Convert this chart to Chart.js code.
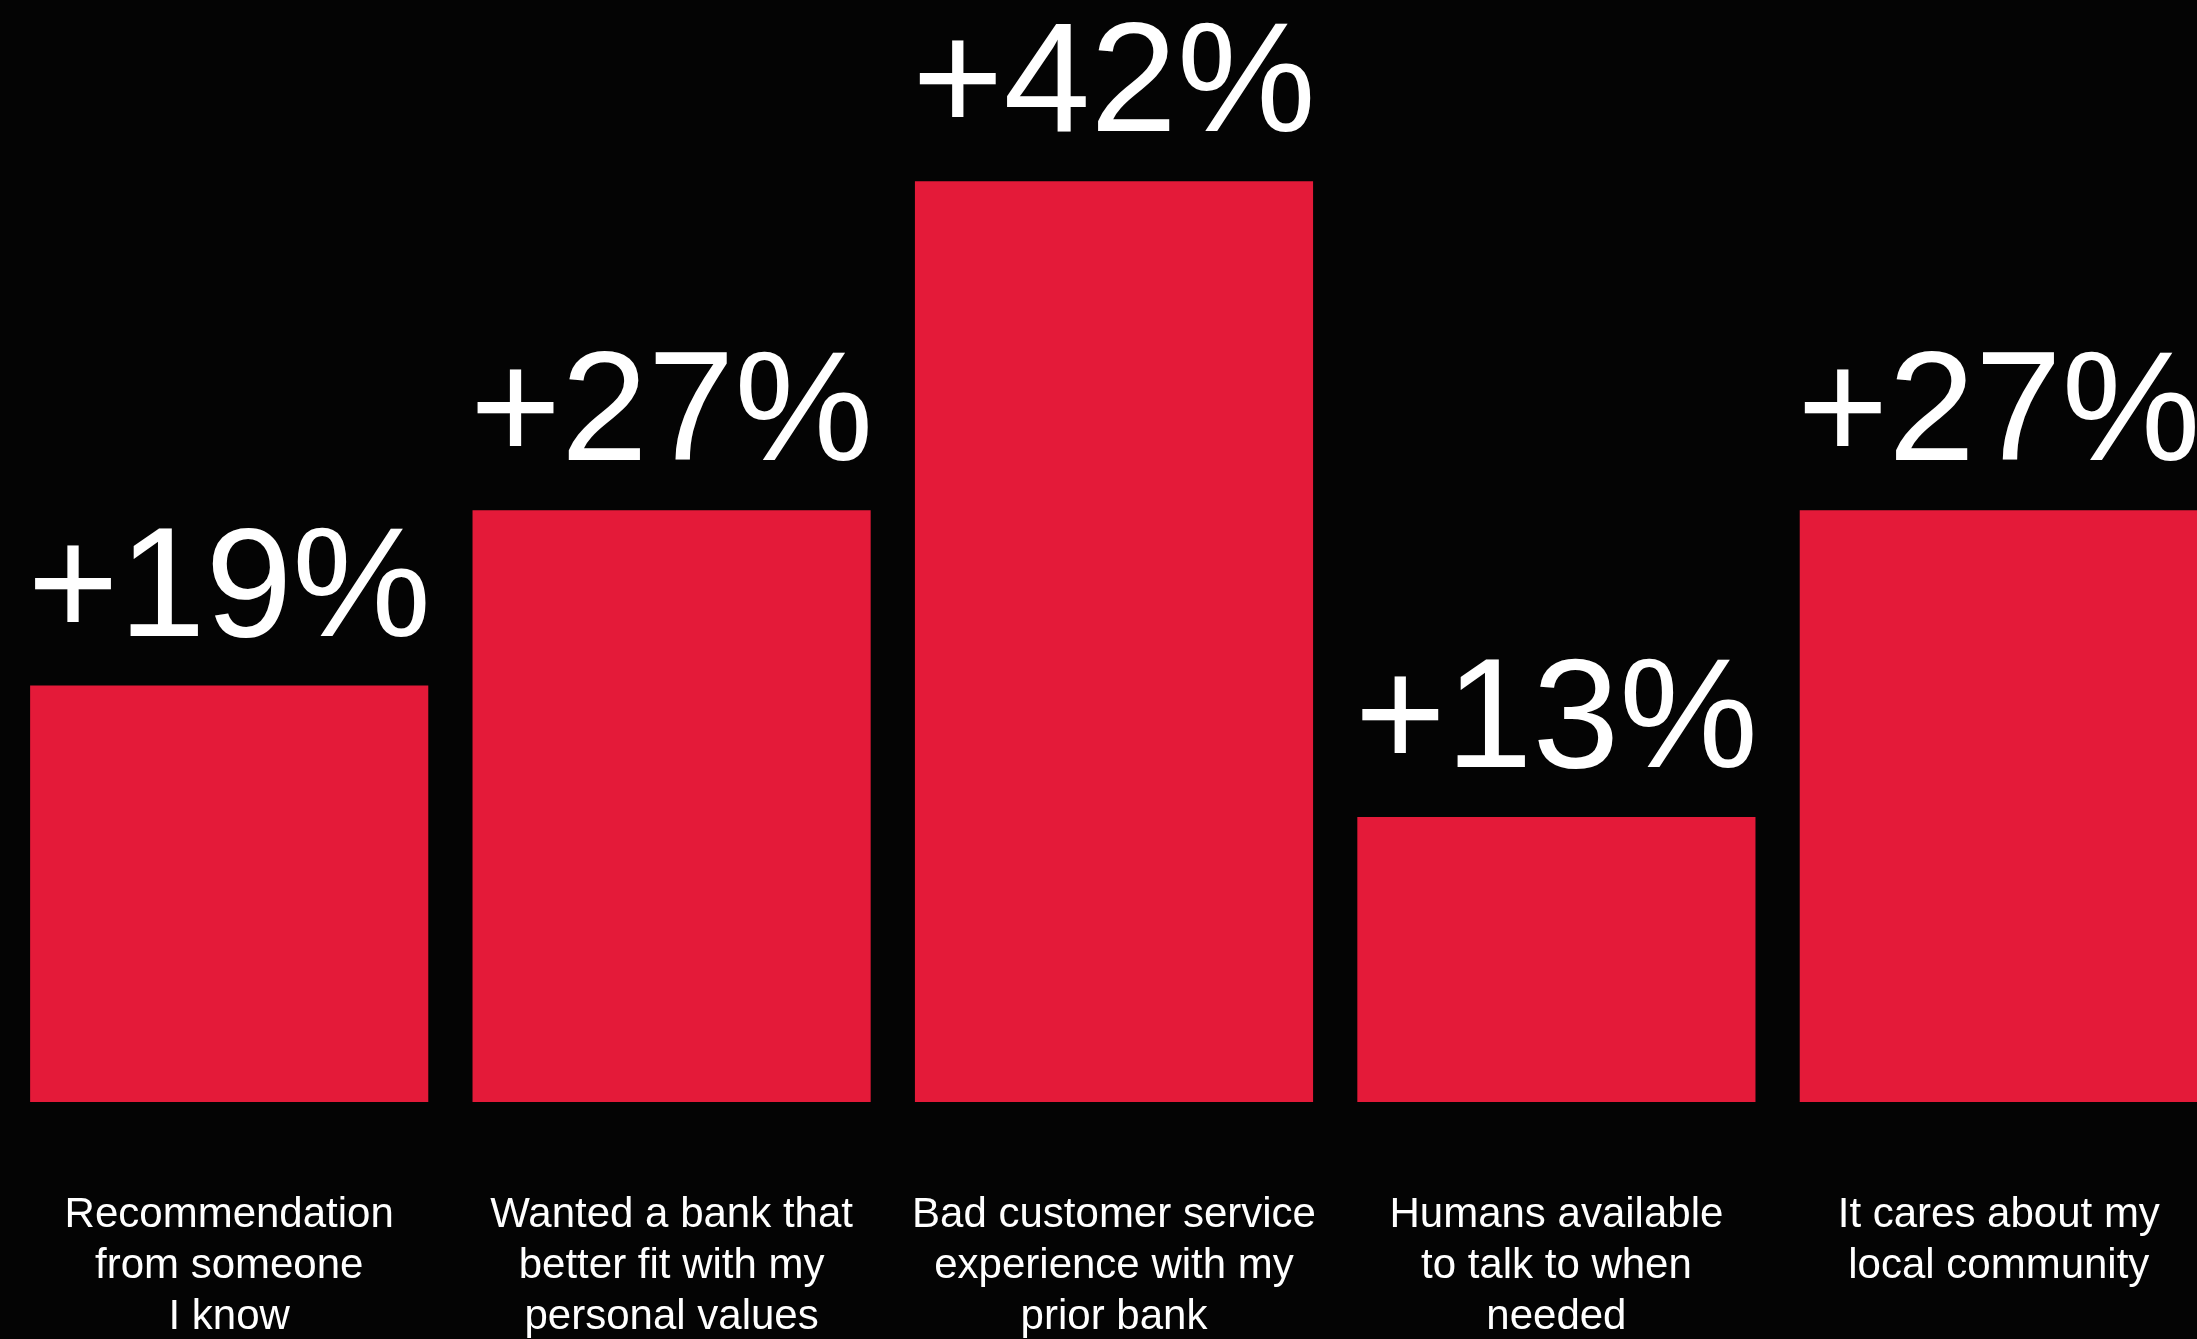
<!DOCTYPE html>
<html>
<head>
<meta charset="utf-8">
<script src="https://cdn.jsdelivr.net/npm/chart.js@4.4.1/dist/chart.umd.min.js"></script>
<style>
  html, body { margin: 0; padding: 0; background: #040404; overflow: hidden; }
  #wrap { position: absolute; left: 0; top: 0; width: 2240px; height: 1339px; }
</style>
</head>
<body>
<div id="wrap"><canvas id="chart"></canvas></div>
<script>
const reasons = [
  ['Recommendation', 'from someone', 'I know'],
  ['Wanted a bank that', 'better fit with my', 'personal values'],
  ['Bad customer service', 'experience with my', 'prior bank'],
  ['Humans available', 'to talk to when', 'needed'],
  ['It cares about my', 'local community']
];
const lift = [19, 27, 42, 13, 27];

const FONT = '"Liberation Sans", Helvetica, Arial, sans-serif';

// big "+NN%" figure above each bar
const valueLabels = {
  id: 'valueLabels',
  afterDatasetsDraw(chart) {
    const ctx = chart.ctx;
    const meta = chart.getDatasetMeta(0);
    ctx.save();
    ctx.fillStyle = '#ffffff';
    ctx.font = '156px ' + FONT;
    ctx.textAlign = 'center';
    ctx.textBaseline = 'alphabetic';
    meta.data.forEach((bar, i) => {
      ctx.fillText('+' + lift[i] + '%', bar.x, bar.y - 50);
    });
    ctx.restore();
  }
};

new Chart(document.getElementById('chart'), {
  type: 'bar',
  data: {
    labels: reasons,
    datasets: [{
      data: lift,
      backgroundColor: '#e41a39',
      borderWidth: 0,
      barPercentage: 1,
      categoryPercentage: 0.9
    }]
  },
  options: {
    responsive: true,
    maintainAspectRatio: false,
    animation: false,
    layout: { padding: { left: 8, right: 20, top: 6, bottom: 0 } },
    plugins: { legend: { display: false }, tooltip: { enabled: false } },
    scales: {
      x: {
        // invisible tick marks push the labels down without widening the side padding
        grid: { display: true, drawOnChartArea: false, drawTicks: true, tickLength: 88, tickColor: 'rgba(0,0,0,0)', color: 'rgba(0,0,0,0)' },
        border: { display: false },
        ticks: {
          color: '#ffffff',
          padding: 0,
          maxRotation: 0,
          autoSkip: false,
          font: { family: FONT, size: 42, lineHeight: 51 / 42 }
        },
        afterFit: s => { s.height = 237; }
      },
      y: {
        display: false,
        min: 0,
        max: 50
      }
    }
  },
  plugins: [valueLabels]
});
</script>
</body>
</html>
